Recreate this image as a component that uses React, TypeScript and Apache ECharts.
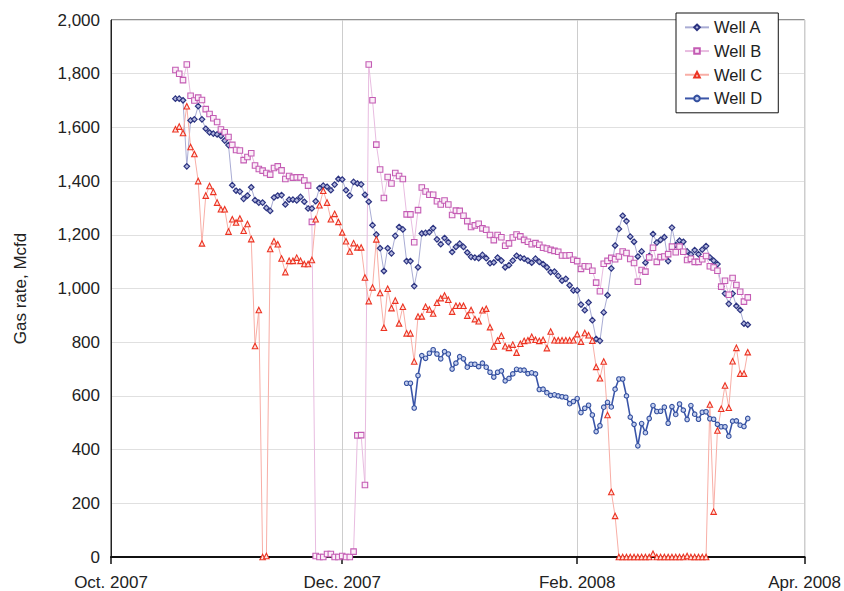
import React, { useEffect, useRef } from 'react';
import * as echarts from 'echarts';

// ---- axis ----
const AXIS_START = '2007-10-01';
const AXIS_END = '2008-04-01';
const TICK_DATES = ['2007-10-01', '2007-12-01', '2008-02-01', '2008-04-01'];
const TICK_LABELS = ['Oct. 2007', 'Dec. 2007', 'Feb. 2008', 'Apr. 2008'];
const Y_MIN = 0;
const Y_MAX = 2000;
const Y_STEP = 200;

// ---- series (daily gas rate, Mcfd) ----
const SERIES_NAMES = ['Well A', 'Well B', 'Well C', 'Well D'];

const WELL_A_START = '2007-10-18';
const wellA = [
  1707, 1707, 1701, 1455, 1626, 1630, 1679, 1630, 1595, 1581, 1577, 1574, 1568, 1551, 1534, 1385, 1364, 1361, 1334, 1346,
  1377, 1329, 1320, 1320, 1300, 1289, 1339, 1346, 1348, 1313, 1331, 1331, 1328, 1341, 1323, 1298, 1298, 1325,
  1374, 1383, 1379, 1366, 1387, 1408, 1406, 1366, 1346, 1397, 1391, 1388, 1349, 1323, 1236, 1201, 1150, 1065, 1150, 1131,
  1196, 1229, 1220, 1102, 1102, 1009, 1079, 1205, 1207, 1210, 1225, 1183, 1165, 1188, 1173, 1136, 1155, 1167, 1155, 1134, 1118,
  1115, 1113, 1125, 1113, 1094, 1097, 1115, 1104, 1079, 1087, 1104, 1122, 1115, 1111, 1104, 1096, 1111, 1099, 1091, 1079,
  1061, 1063, 1047, 1029, 1036, 1012, 993, 993, 940, 919, 948, 882, 812, 805, 911, 975, 1075, 1160, 1222,
  1271, 1251, 1193, 1174, 1119, 1138, 1096, 1121, 1203, 1171, 1181, 1191, 1102, 1227, 1162, 1178, 1174, 1138, 1127, 1143,
  1128, 1145, 1158, 1116, 1104, 1091, 1007, 981, 943, 981, 935, 920, 869, 865,
];

const WELL_B_START = '2007-10-18';
const wellB = [
  1814, 1800, 1776, 1834, 1718, 1700, 1711, 1702, 1668, 1650, 1634, 1620, 1592, 1582, 1564, 1535, 1516, 1514, 1478, 1490,
  1504, 1458, 1445, 1439, 1430, 1424, 1449, 1455, 1440, 1408, 1419, 1413, 1414, 1414, 1402, 1383, 1248,
  4, 0, 0, 11, 11, 0, 0, 4, 0, 0, 20, 453, 454, 268, 1834, 1701, 1536, 1443, 1337, 1415,
  1391, 1430, 1419, 1408, 1276, 1276, 1172, 1292, 1376, 1361, 1349, 1349, 1325, 1313, 1328, 1313, 1274, 1290, 1289, 1271, 1251, 1229,
  1235, 1241, 1224, 1219, 1199, 1180, 1199, 1191, 1159, 1168, 1190, 1201, 1194, 1181, 1174, 1165, 1169, 1163, 1152, 1149,
  1144, 1140, 1137, 1123, 1123, 1124, 1107, 1102, 1073, 1083, 1082, 1066, 1022, 990, 1092, 1103, 1114, 1109, 1119,
  1138, 1132, 1110, 1095, 1025, 1069, 1063, 1116, 1152, 1099, 1117, 1119, 1128, 1156, 1135, 1156, 1137, 1106, 1111, 1099,
  1099, 1109, 1121, 1083, 1078, 1066, 1007, 1029, 977, 1039, 1013, 988, 951, 967,
];

const WELL_C_START = '2007-10-18';
const wellC = [
  1593, 1603, 1579, 1679, 1527, 1501, 1400, 1168, 1346, 1382, 1360, 1320, 1295, 1295, 1212, 1258, 1246, 1261, 1215, 1240,
  1184, 786, 920, 0, 4, 1147, 1176, 1165, 1112, 1061, 1103, 1103, 1115, 1103, 1091, 1091, 1106,
  1258, 1310, 1364, 1320, 1258, 1278, 1248, 1209, 1176, 1138, 1169, 1153, 1153, 1041, 953, 1004, 1183, 983, 854, 999,
  927, 955, 870, 932, 833, 833, 728, 896, 896, 932, 922, 907, 947, 964, 974, 958, 914, 936, 936, 936, 899, 920,
  886, 878, 919, 925, 856, 784, 806, 824, 785, 779, 791, 761, 794, 805, 807, 820, 809, 805, 809, 778,
  840, 807, 807, 807, 807, 807, 807, 830, 802, 834, 826, 806, 708, 666, 728, 529, 242, 153, 0,
  0, 0, 0, 0, 0, 0, 0, 0, 12, 0, 0, 0, 0, 0, 0, 0, 0, 4, 0, 0,
  0, 0, 0, 568, 169, 471, 552, 639, 556, 729, 779, 683, 683, 763,
];

const WELL_D_START = '2007-12-18';
const wellD = [
  647, 647, 555, 676, 750, 740, 759, 772, 756, 738, 765, 756, 700, 722, 746, 738, 707, 718,
  718, 709, 722, 707, 688, 670, 688, 693, 656, 665, 682, 699, 696, 696, 683, 686, 682, 624, 625, 612,
  602, 604, 600, 597, 595, 571, 579, 590, 538, 554, 565, 529, 467, 489, 558, 576, 559, 625, 663,
  663, 600, 521, 494, 414, 497, 463, 516, 564, 542, 543, 558, 498, 560, 531, 570, 547, 512, 564, 532,
  513, 539, 541, 515, 513, 494, 485, 485, 450, 506, 507, 491, 486, 516,
];

const FONT = '"Liberation Sans", Arial, Helvetica, sans-serif';

function buildDays(start: string, end: string): string[] {
  const out: string[] = [];
  let t = Date.parse(start + 'T00:00:00Z');
  const e = Date.parse(end + 'T00:00:00Z');
  while (t <= e) {
    out.push(new Date(t).toISOString().slice(0, 10));
    t += 86400000;
  }
  return out;
}

export default function App() {
  const ref = useRef<HTMLDivElement>(null);

  useEffect(() => {
    if (!ref.current) return;
    const chart = echarts.init(ref.current, null, { renderer: 'svg' });
    const days = buildDays(AXIS_START, AXIS_END);
    const pad = (start: string, vals: number[]) => {
      const s = days.indexOf(start);
      return days.map((_, k) => (k >= s && k - s < vals.length ? vals[k - s] : null));
    };
    const isTick = (_i: number, v: string) => TICK_DATES.indexOf(v) >= 0;

    const styles = [
      { symbol: 'diamond', size: 5.5, line: '#a9acd4', lw: 1, border: '#2b3380', fill: '#b4b8de', bw: 1.2 },
      { symbol: 'rect', size: 5.5, line: '#e8bce0', lw: 1, border: '#c45cb4', fill: '#fbeef8', bw: 1.1 },
      { symbol: 'triangle', size: 5.5, line: '#f8aea6', lw: 1, border: '#ec3322', fill: '#fde2dd', bw: 1.1 },
      { symbol: 'circle', size: 4.5, line: '#3a55a8', lw: 1.6, border: '#34509f', fill: '#c4cfee', bw: 1.1 },
    ];
    const datasets = [
      pad(WELL_A_START, wellA),
      pad(WELL_B_START, wellB),
      pad(WELL_C_START, wellC),
      pad(WELL_D_START, wellD),
    ];

    chart.setOption({
      animation: false,
      grid: {
        left: 111,
        right: 36,
        top: 20,
        bottom: 34,
        show: true,
        borderColor: '#222',
        borderWidth: 1,
      },
      legend: {
        orient: 'vertical',
        left: 676,
        top: 13,
        padding: [5, 16, 5, 8],
        itemWidth: 24,
        itemHeight: 7,
        itemGap: 5,
        backgroundColor: '#fff',
        borderColor: '#111',
        borderWidth: 1,
        borderRadius: 0,
        textStyle: { fontSize: 16.5, color: '#222', fontFamily: FONT, lineHeight: 18.7 },
        data: SERIES_NAMES,
      },
      xAxis: {
        type: 'category',
        data: days,
        boundaryGap: false,
        axisLine: { lineStyle: { color: '#111', width: 2 } },
        axisTick: { interval: isTick, length: 7, lineStyle: { color: '#111', width: 1.5 } },
        axisLabel: {
          interval: isTick,
          formatter: (v: string) => TICK_LABELS[TICK_DATES.indexOf(v)] ?? '',
          fontSize: 17,
          color: '#222',
          margin: 17,
          fontFamily: FONT,
        },
        splitLine: { show: true, interval: isTick, lineStyle: { color: '#cdcdcd', width: 1 } },
      },
      yAxis: {
        type: 'value',
        min: Y_MIN,
        max: Y_MAX,
        interval: Y_STEP,
        name: 'Gas rate, Mcfd',
        nameLocation: 'middle',
        nameGap: 82,
        nameTextStyle: { fontSize: 17, color: '#222', fontFamily: FONT },
        axisLine: { show: true, lineStyle: { color: '#222', width: 1 } },
        axisTick: { show: false },
        axisLabel: {
          fontSize: 17,
          color: '#222',
          margin: 11,
          fontFamily: FONT,
          formatter: (v: number) => v.toLocaleString('en-US'),
        },
        splitLine: { show: true, lineStyle: { color: '#e0e0e0', width: 1 } },
      },
      series: SERIES_NAMES.map((name, i) => ({
        name,
        type: 'line',
        data: datasets[i],
        symbol: styles[i].symbol,
        symbolSize: styles[i].size,
        showSymbol: true,
        showAllSymbol: true,
        connectNulls: false,
        lineStyle: { color: styles[i].line, width: styles[i].lw },
        itemStyle: { color: styles[i].fill, borderColor: styles[i].border, borderWidth: styles[i].bw },
        emphasis: { disabled: true },
      })),
    });
    return () => chart.dispose();
  }, []);

  return (
    <div
      ref={ref}
      style={{ position: 'absolute', left: 0, top: 0, width: 844, height: 591 }}
    />
  );
}
